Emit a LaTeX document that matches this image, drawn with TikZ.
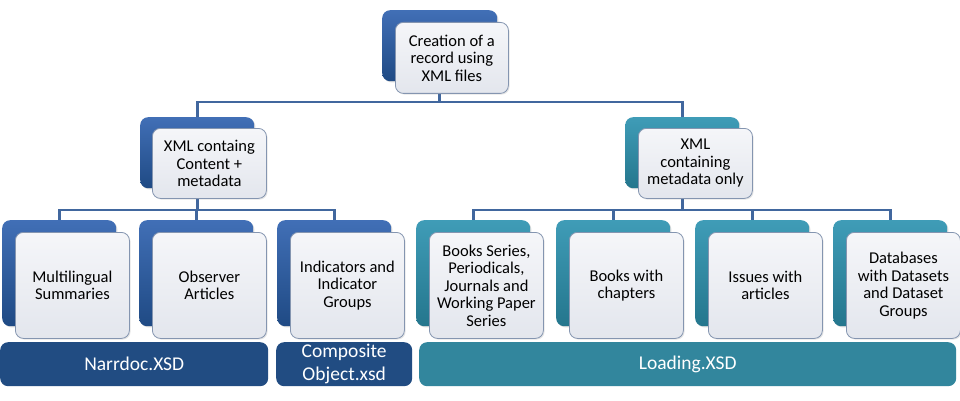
\documentclass[tikz,border=0pt]{standalone}
\usepackage{fontspec}
\setmainfont{Carlito}
\usetikzlibrary{backgrounds,shadows}
\definecolor{blueTop}{HTML}{416FB6}
\definecolor{blueBot}{HTML}{1F4A84}
\definecolor{tealTop}{HTML}{3F9CB7}
\definecolor{tealBot}{HTML}{24768D}
\definecolor{frontTop}{HTML}{F5F6F9}
\definecolor{frontBot}{HTML}{E3E6ED}
\definecolor{frontBorder}{HTML}{8495B0}
\definecolor{connCol}{HTML}{41679E}
\definecolor{barBlue}{HTML}{214C82}
\definecolor{barTeal}{HTML}{32869D}
\begin{document}
\begin{tikzpicture}[x=1pt,y=-1pt,
  backbox/.style={rounded corners=8pt, anchor=north west, inner sep=0pt,
    minimum width=114pt, minimum height=106pt,
    drop shadow={opacity=0.25, shadow xshift=1.2pt, shadow yshift=-1.2pt}},
  bluebox/.style={backbox, top color=blueTop, bottom color=blueBot},
  tealbox/.style={backbox, top color=tealTop, bottom color=tealBot},
  smallbox/.style={minimum height=71pt},
  front/.style={rounded corners=8pt, anchor=north west, inner sep=2pt,
    minimum width=114pt, minimum height=106pt, draw=frontBorder, line width=0.8pt,
    top color=frontTop, bottom color=frontBot, align=center, text=black,
    font=\fontsize{16.5}{17.5}\selectfont,
    drop shadow={opacity=0.2, shadow xshift=1.2pt, shadow yshift=-1.2pt}},
  bar/.style={rounded corners=8pt, anchor=north west, inner sep=0pt,
    minimum height=44pt, text=white, align=center,
    font=\fontsize{19.5}{22.5}\selectfont},
  conn/.style={draw=connCol, line width=2.6pt}]
\useasboundingbox (0,0) rectangle (960,401);

% top level
\node[bluebox, smallbox, minimum width=115pt] (topB) at (382,10) {};
\node[front, minimum height=71pt, minimum width=113pt] (topF) at (395,22) {Creation of a\\record using\\XML files};

% middle level
\node[bluebox, smallbox] (midLB) at (140,117) {};
\node[front, minimum height=70pt] (midLF) at (152,128) {XML containg\\Content +\\metadata};
\node[tealbox, smallbox] (midRB) at (625,117) {};
\node[front, minimum height=70pt] (midRF) at (638,128) {XML\\containing\\metadata only};

% leaves
\node[bluebox] (l1B) at (2,220) {};
\node[front] (l1F) at (15,232) {Multilingual\\Summaries};
\node[bluebox] (l2B) at (139,220) {};
\node[front] (l2F) at (152,232) {Observer\\Articles};
\node[bluebox] (l3B) at (277,220) {};
\node[front] (l3F) at (290,232) {Indicators and\\Indicator\\Groups};
\node[tealbox] (l4B) at (416,220) {};
\node[front] (l4F) at (429,232) {Books Series,\\Periodicals,\\Journals and\\Working Paper\\Series};
\node[tealbox] (l5B) at (556,220) {};
\node[front] (l5F) at (569,232) {Books with\\chapters};
\node[tealbox] (l6B) at (695,220) {};
\node[front] (l6F) at (708,232) {Issues with\\articles};
\node[tealbox] (l7B) at (833,220) {};
\node[front] (l7F) at (846,232) {Databases\\with Datasets\\and Dataset\\Groups};

% bars
\node[bar, fill=barBlue, minimum width=268pt] (narr) at (0,342) {Narrdoc.XSD};
\node[bar, fill=barBlue, minimum width=136pt] (comp) at (276,342) {Composite\\Object.xsd};
\node[bar, fill=barTeal, minimum width=537pt] (load) at (419,342) {Loading.XSD};

% connectors
\begin{scope}[on background layer]
  \fill[white] (0,0) rectangle (960,401);
  \path (topB.center |- 0,102) coordinate (b0);
  \draw[conn] (topB.center) -- (b0) -| (midLB.center);
  \draw[conn] (b0) -| (midRB.center);
  \path (midLB.center |- 0,210) coordinate (b1);
  \draw[conn] (midLB.center) -- (b1);
  \draw[conn] (b1) -| (l1B.center);
  \draw[conn] (b1) -| (l2B.center);
  \draw[conn] (b1) -| (l3B.center);
  \path (midRB.center |- 0,210) coordinate (b2);
  \draw[conn] (midRB.center) -- (b2);
  \draw[conn] (b2) -| (l4B.center);
  \draw[conn] (b2) -| (l5B.center);
  \draw[conn] (b2) -| (l6B.center);
  \draw[conn] (b2) -| (l7B.center);
\end{scope}
\end{tikzpicture}
\end{document}
